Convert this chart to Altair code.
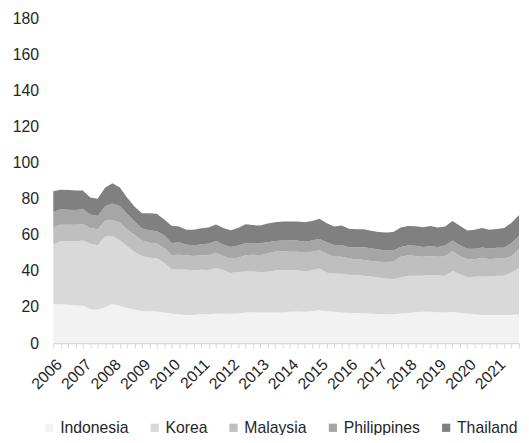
import altair as alt
import pandas as pd

# Quarterly categories 2006Q1 .. 2021Q4
quarters = [f"{y}Q{q}" for y in range(2006, 2022) for q in range(1, 5)]

series = ["Indonesia", "Korea", "Malaysia", "Philippines", "Thailand"]
colors = ["#f2f2f2", "#d9d9d9", "#bfbfbf", "#a6a6a6", "#808080"]

indonesia = [21.5, 21.5, 21.2, 20.9, 20.7, 18.8, 18.6, 19.8, 21.6, 20.5, 19.5, 18.5, 17.8, 17.6, 17.5, 17.0,
             16.3, 15.9, 15.5, 15.6, 16.0, 16.0, 16.4, 16.2, 16.2, 16.4, 17.0, 17.1, 16.9, 16.9, 16.9, 16.9,
             17.3, 17.5, 17.3, 17.6, 18.2, 17.6, 17.3, 16.9, 16.7, 16.7, 16.6, 16.2, 16.0, 16.0, 16.0, 16.4,
             16.7, 17.1, 17.3, 17.3, 17.1, 16.9, 17.3, 16.7, 16.4, 16.0, 15.6, 15.6, 15.5, 15.5, 15.6, 16.0]
korea = [33.1, 34.9, 35.2, 35.5, 36.2, 36.2, 35.6, 39.2, 37.7, 36.5, 34.0, 32.0, 30.5, 29.7, 29.4, 27.5,
         24.5, 24.9, 25.1, 24.8, 24.6, 24.5, 25.2, 24.3, 22.7, 23.0, 22.6, 22.6, 22.3, 22.6, 23.3, 23.6,
         23.2, 22.9, 22.4, 22.7, 23.1, 21.4, 21.3, 21.5, 21.1, 21.0, 20.7, 20.7, 20.4, 19.8, 19.5, 20.0,
         20.6, 20.2, 20.0, 20.4, 20.4, 20.4, 22.7, 21.5, 20.0, 20.8, 21.3, 21.5, 21.8, 21.8, 23.5, 25.8]
malaysia = [9.6, 9.1, 9.1, 9.1, 9.0, 8.8, 8.9, 8.8, 8.9, 9.8, 9.5, 9.5, 8.5, 8.3, 8.3, 8.0,
            8.0, 8.2, 8.0, 7.9, 8.0, 8.1, 8.4, 7.8, 8.0, 7.9, 9.0, 9.3, 9.5, 10.2, 10.5, 10.4,
            10.1, 10.2, 10.3, 10.3, 10.2, 10.5, 9.2, 9.4, 9.1, 8.7, 8.7, 8.6, 8.7, 9.1, 9.6, 11.4,
            11.3, 10.9, 10.5, 10.5, 10.3, 10.9, 10.9, 10.0, 10.0, 9.6, 10.4, 9.3, 9.5, 9.5, 9.1, 10.4]
philippines = [8.6, 8.6, 8.4, 8.2, 8.2, 7.4, 7.3, 8.0, 9.1, 9.2, 8.5, 7.5, 6.7, 6.9, 6.8, 7.3,
               6.7, 6.8, 6.0, 5.7, 6.2, 6.4, 6.5, 6.3, 6.3, 6.7, 6.7, 6.4, 6.6, 6.1, 5.9, 6.0,
               6.2, 6.2, 6.2, 6.2, 6.2, 6.4, 6.6, 6.6, 6.2, 6.7, 7.1, 7.1, 6.8, 6.4, 6.2, 5.5,
               5.4, 5.7, 5.5, 5.5, 5.5, 5.8, 6.0, 6.0, 5.8, 5.8, 5.6, 6.0, 6.0, 6.0, 7.3, 7.3]
thailand = [11.3, 10.9, 10.9, 10.9, 10.5, 9.4, 9.5, 10.2, 11.3, 10.2, 9.0, 8.0, 8.5, 9.4, 9.6, 8.7,
            9.5, 8.8, 8.2, 8.8, 8.8, 9.0, 9.2, 9.2, 9.3, 9.7, 10.5, 10.0, 9.8, 10.4, 10.4, 10.4,
            10.5, 10.5, 10.7, 10.8, 11.2, 10.5, 10.2, 10.7, 10.2, 10.0, 10.0, 9.6, 9.6, 10.0, 10.2, 10.7,
            10.9, 10.8, 10.9, 11.2, 10.7, 10.6, 10.8, 10.8, 10.2, 10.6, 10.9, 10.4, 10.4, 11.0, 11.2, 11.4]

values_by_series = [indonesia, korea, malaysia, philippines, thailand]

rows = []
for k, (name, vals) in enumerate(zip(series, values_by_series)):
    for i, v in enumerate(vals):
        rows.append({"idx": i, "quarter": quarters[i], "country": name, "ord": k, "value": v})
df = pd.DataFrame(rows)

FONT = "Liberation Sans"
TXT = "#262626"

chart = alt.Chart(df).mark_area(interpolate="linear").encode(
    x=alt.X(
        "idx:Q",
        title=None,
        scale=alt.Scale(domain=[0, len(quarters) - 1], nice=False, zero=False),
        axis=alt.Axis(
            values=list(range(len(quarters))),
            labelExpr="datum.value % 4 == 0 ? toString(2006 + floor(datum.value / 4)) : ''",
            labelAngle=-45,
            labelAlign="right",
            labelBaseline="top",
            labelOverlap=False,
            labelFlush=False,
            labelFont=FONT,
            labelFontSize=16,
            labelColor=TXT,
            labelPadding=8,
            tickSize=5,
            tickColor="#d9d9d9",
            domainColor="#d9d9d9",
            domainWidth=1.5,
            grid=False,
        ),
    ),
    y=alt.Y(
        "value:Q",
        stack="zero",
        title=None,
        scale=alt.Scale(domain=[0, 180], nice=False),
        axis=alt.Axis(
            values=list(range(0, 181, 20)),
            labelFont=FONT,
            labelFontSize=16,
            labelColor=TXT,
            labelPadding=15,
            ticks=False,
            domain=False,
            grid=False,
        ),
    ),
    color=alt.Color(
        "country:N",
        scale=alt.Scale(domain=series, range=colors),
        legend=alt.Legend(
            title=None,
            orient="none",
            legendX=-12,
            legendY=408,
            direction="horizontal",
            symbolType="square",
            symbolSize=70,
            symbolStrokeWidth=0,
            labelFont=FONT,
            labelFontSize=16,
            labelColor=TXT,
            columnPadding=18,
            labelOffset=3,
        ),
    ),
    order=alt.Order("ord:Q", sort="ascending"),
).properties(
    width=473,
    height=330,
    autosize=alt.AutoSizeParams(type="none"),
    padding={"left": 46, "top": 7, "right": 2, "bottom": 90},
).configure_view(stroke=None)

chart.save("out.html", embed_options={"renderer": "svg", "actions": False})
